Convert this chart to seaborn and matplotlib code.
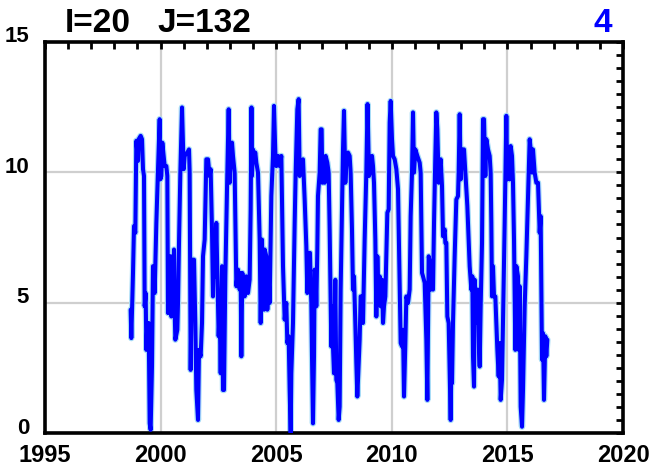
import matplotlib
matplotlib.use("Agg")
import matplotlib.pyplot as plt
import matplotlib.transforms as mtransforms
from matplotlib.ticker import MultipleLocator
import seaborn as sns
import pandas as pd

# ---- data ----
years = [
    1998.705, 1998.734, 1998.806, 1998.850, 1998.907, 1998.950, 1999.023, 1999.051, 1999.138, 1999.196,
    1999.239, 1999.282, 1999.311, 1999.354, 1999.383, 1999.426, 1999.484, 1999.527, 1999.570, 1999.628,
    1999.671, 1999.715, 1999.743, 1999.816, 1999.888, 1999.960, 1999.988, 2000.032, 2000.075, 2000.133,
    2000.176, 2000.248, 2000.291, 2000.320, 2000.363, 2000.392, 2000.435, 2000.464, 2000.536, 2000.580,
    2000.608, 2000.637, 2000.724, 2000.753, 2000.796, 2000.854, 2000.926, 2000.998, 2001.041, 2001.156,
    2001.228, 2001.257, 2001.300, 2001.358, 2001.445, 2001.502, 2001.545, 2001.618, 2001.661, 2001.733,
    2001.791, 2001.834, 2001.906, 2001.978, 2002.050, 2002.122, 2002.165, 2002.223, 2002.266, 2002.310,
    2002.367, 2002.410, 2002.454, 2002.511, 2002.555, 2002.598, 2002.656, 2002.699, 2002.742, 2002.800,
    2002.843, 2002.886, 2002.944, 2002.987, 2003.030, 2003.088, 2003.131, 2003.203, 2003.276, 2003.348,
    2003.420, 2003.463, 2003.492, 2003.535, 2003.593, 2003.636, 2003.708, 2003.780, 2003.852, 2003.896,
    2003.930, 2003.953, 2003.996, 2004.040, 2004.097, 2004.140, 2004.213, 2004.285, 2004.328, 2004.386,
    2004.429, 2004.472, 2004.501, 2004.573, 2004.616, 2004.674, 2004.717, 2004.789, 2004.861, 2004.905,
    2004.962, 2005.006, 2005.078, 2005.150, 2005.222, 2005.294, 2005.366, 2005.438, 2005.481, 2005.539,
    2005.582, 2005.626, 2005.654, 2005.726, 2005.799, 2005.842, 2005.914, 2005.971, 2006.015, 2006.087,
    2006.159, 2006.231, 2006.303, 2006.346, 2006.404, 2006.462, 2006.490, 2006.519, 2006.548, 2006.591,
    2006.635, 2006.663, 2006.707, 2006.735, 2006.779, 2006.807, 2006.880, 2006.923, 2006.966, 2006.995,
    2007.038, 2007.096, 2007.139, 2007.211, 2007.269, 2007.312, 2007.355, 2007.384, 2007.427, 2007.456,
    2007.500, 2007.557, 2007.600, 2007.644, 2007.701, 2007.745, 2007.788, 2007.846, 2007.889, 2007.932,
    2007.990, 2008.033, 2008.105, 2008.177, 2008.220, 2008.278, 2008.321, 2008.365, 2008.422, 2008.466,
    2008.509, 2008.566, 2008.610, 2008.653, 2008.711, 2008.754, 2008.826, 2008.898, 2008.950, 2009.014,
    2009.086, 2009.144, 2009.187, 2009.230, 2009.288, 2009.331, 2009.375, 2009.432, 2009.476, 2009.519,
    2009.577, 2009.620, 2009.663, 2009.721, 2009.764, 2009.807, 2009.865, 2009.908, 2009.951, 2010.009,
    2010.052, 2010.124, 2010.197, 2010.269, 2010.341, 2010.384, 2010.442, 2010.485, 2010.528, 2010.586,
    2010.629, 2010.701, 2010.773, 2010.816, 2010.874, 2010.917, 2010.961, 2011.018, 2011.105, 2011.206,
    2011.249, 2011.307, 2011.350, 2011.422, 2011.451, 2011.494, 2011.538, 2011.595, 2011.638, 2011.681,
    2011.739, 2011.782, 2011.826, 2011.883, 2011.926, 2011.970, 2012.027, 2012.071, 2012.114, 2012.172,
    2012.215, 2012.287, 2012.316, 2012.359, 2012.402, 2012.460, 2012.503, 2012.546, 2012.575, 2012.604,
    2012.647, 2012.719, 2012.791, 2012.864, 2012.892, 2012.936, 2012.979, 2013.037, 2013.123, 2013.181,
    2013.267, 2013.368, 2013.440, 2013.484, 2013.512, 2013.556, 2013.584, 2013.628, 2013.657, 2013.700,
    2013.729, 2013.772, 2013.801, 2013.844, 2013.902, 2013.945, 2013.988, 2014.046, 2014.089, 2014.161,
    2014.233, 2014.276, 2014.305, 2014.334, 2014.377, 2014.421, 2014.478, 2014.521, 2014.565, 2014.622,
    2014.666, 2014.709, 2014.767, 2014.810, 2014.882, 2014.925, 2014.954, 2014.997, 2015.055, 2015.098,
    2015.141, 2015.199, 2015.242, 2015.286, 2015.343, 2015.387, 2015.459, 2015.488, 2015.531, 2015.574,
    2015.632, 2015.675, 2015.747, 2015.819, 2015.891, 2015.963, 2016.035, 2016.064, 2016.107, 2016.179,
    2016.252, 2016.324, 2016.396, 2016.439, 2016.468, 2016.497, 2016.540, 2016.583, 2016.641, 2016.684,
    2016.728,
]
values = [
    4.73, 3.64, 6.14, 7.94, 7.68, 11.21, 10.44, 11.27, 11.40, 11.27,
    10.12, 9.86, 4.86, 5.37, 3.19, 4.22, 4.22, 0.37, 0.12, 2.55,
    6.40, 6.27, 5.37, 8.06, 10.12, 12.04, 9.73, 9.86, 11.14, 10.63,
    10.24, 10.24, 9.86, 4.60, 6.78, 4.86, 6.78, 4.47, 4.99, 7.04,
    4.73, 3.58, 3.96, 4.99, 7.29, 9.99, 12.49, 10.12, 10.63, 10.76,
    10.88, 9.99, 2.42, 6.65, 6.65, 4.22, 1.65, 0.50, 3.19, 2.94,
    4.22, 6.78, 7.42, 10.50, 10.50, 9.86, 10.12, 7.81, 5.24, 7.68,
    6.01, 8.06, 6.14, 3.71, 4.73, 2.29, 6.40, 1.65, 1.65, 6.01,
    8.06, 9.99, 12.42, 9.60, 10.63, 11.14, 10.63, 9.99, 5.63, 6.27,
    5.50, 6.14, 2.94, 6.14, 5.76, 5.24, 6.01, 5.37, 5.88, 8.58,
    12.49, 9.86, 10.88, 10.63, 10.76, 10.37, 9.99, 7.42, 4.22, 7.42,
    4.86, 4.73, 7.04, 6.78, 4.73, 6.01, 4.99, 9.09, 10.63, 12.55,
    10.76, 10.24, 10.63, 10.24, 10.63, 6.40, 4.35, 4.99, 3.45, 3.71,
    1.65, 0.00, 2.29, 4.22, 8.06, 9.99, 12.42, 12.81, 9.86, 10.12,
    10.50, 8.96, 7.17, 5.37, 6.91, 6.91, 5.76, 4.99, 2.94, 0.37,
    2.94, 6.27, 6.01, 4.86, 7.04, 9.09, 9.99, 11.65, 11.65, 9.60,
    10.37, 9.60, 10.63, 10.37, 9.99, 7.81, 5.24, 3.32, 4.86, 3.32,
    2.29, 5.88, 2.04, 1.91, 0.50, 1.01, 5.50, 8.71, 10.88, 12.36,
    9.60, 10.37, 10.76, 10.63, 9.99, 7.81, 5.50, 6.01, 4.22, 2.68,
    1.40, 2.68, 3.58, 5.24, 5.24, 4.22, 7.42, 9.99, 12.62, 9.86,
    10.12, 10.63, 10.24, 9.60, 7.42, 4.47, 6.78, 4.99, 6.01, 4.86,
    5.88, 4.22, 4.86, 5.24, 6.78, 8.45, 8.58, 11.91, 12.74, 11.27,
    10.63, 10.50, 10.12, 9.35, 5.76, 3.45, 3.32, 3.96, 1.40, 3.45,
    5.24, 4.99, 5.50, 8.32, 9.99, 12.30, 9.99, 10.88, 10.63, 10.37,
    9.99, 6.14, 6.01, 5.76, 4.86, 3.58, 1.27, 6.78, 6.60, 5.50,
    5.90, 5.50, 8.06, 10.63, 12.30, 11.65, 9.60, 10.24, 10.50, 9.47,
    7.55, 7.81, 7.29, 7.29, 4.47, 4.22, 2.29, 0.50, 2.68, 1.91,
    4.22, 6.78, 8.96, 9.09, 9.99, 12.23, 9.73, 10.88, 10.88, 9.99,
    8.71, 6.40, 5.50, 6.01, 2.94, 1.78, 5.88, 5.24, 5.50, 4.22,
    5.50, 3.19, 2.55, 4.86, 7.29, 12.04, 12.04, 9.86, 11.27, 10.88,
    10.63, 9.99, 8.06, 5.24, 6.40, 5.24, 5.24, 4.22, 3.19, 2.17,
    3.45, 1.27, 2.04, 4.22, 8.06, 10.63, 12.17, 9.73, 10.37, 9.73,
    11.01, 10.63, 9.60, 7.42, 3.19, 6.40, 6.01, 3.19, 5.63, 1.01,
    0.24, 1.65, 4.86, 6.78, 9.09, 11.27, 10.63, 9.99, 10.88, 9.99,
    9.60, 9.60, 7.68, 8.32, 5.50, 2.81, 3.83, 1.27, 3.71, 2.94,
    3.58,
]
x_ticks = [1995, 2000, 2005, 2010, 2015, 2020]
x_tick_labels = ["1995", "2000", "2005", "2010", "2015", "2020"]
y_ticks = [0, 5, 10, 15]
y_tick_labels = ["0", "5", "10", "15"]
title_left_1 = "I=20"
title_left_2 = "J=132"
title_right = "4"

# ---- style ----
sns.set_style("white")
plt.rcParams["font.family"] = ["Liberation Sans Narrow", "Liberation Sans", "DejaVu Sans"]
plt.rcParams["text.color"] = "black"
plt.rcParams["xtick.color"] = "black"
plt.rcParams["ytick.color"] = "black"
plt.rcParams["xtick.labelcolor"] = "black"
plt.rcParams["ytick.labelcolor"] = "black"

W, H = 671, 472
fig = plt.figure(figsize=(W / 100, H / 100), dpi=100)
ax = fig.add_axes([45 / W, 39 / H, 578 / W, 391 / H])

df = pd.DataFrame({"year": years, "value": values})
sns.lineplot(data=df, x="year", y="value", ax=ax, color="#a8dcf7",
             lw=4.6, estimator=None, sort=False, zorder=2)
sns.lineplot(data=df, x="year", y="value", ax=ax, color="#0000ff",
             lw=2.9, estimator=None, sort=False, zorder=3)

ax.set_xlim(1995, 2020)
ax.set_ylim(0, 15)
ax.set_xlabel("")
ax.set_ylabel("")

ax.set_xticks(x_ticks)
ax.set_xticklabels(x_tick_labels, fontsize=17, fontweight="bold", color="black")
ax.xaxis.set_minor_locator(MultipleLocator(1))
ax.set_yticks(y_ticks)
ax.yaxis.set_minor_locator(MultipleLocator(0.5))

ax.grid(True, which="major", color="#cfcfcf", lw=1.6, zorder=0)
ax.set_axisbelow(True)

ax.tick_params(which="both", direction="in", top=True, right=True,
               length=5, width=2.0, color="black", labelleft=False)
ax.tick_params(axis="x", which="major", pad=8)

for sp in ax.spines.values():
    sp.set_visible(True)
    sp.set_linewidth(2.6)
    sp.set_color("black")

# y tick labels, drawn slightly above their ticks
ytrans = mtransforms.offset_copy(ax.get_yaxis_transform(), fig=fig, x=-16, y=5, units="dots")
for v, lab in zip(y_ticks, y_tick_labels):
    ax.text(0, v, lab, transform=ytrans, ha="right", va="center",
            fontsize=16, fontweight="bold", color="black", clip_on=False)

# header texts
fig.text(65 / W, 1 - 32 / H, title_left_1, fontsize=24, fontweight="bold", ha="left", va="baseline")
fig.text(157 / W, 1 - 32 / H, title_left_2, fontsize=24, fontweight="bold", ha="left", va="baseline")
fig.text(612 / W, 1 - 32 / H, title_right, fontsize=24, fontweight="bold", color="#0000ff",
         ha="right", va="baseline")

fig.savefig("out.png", dpi=100)
